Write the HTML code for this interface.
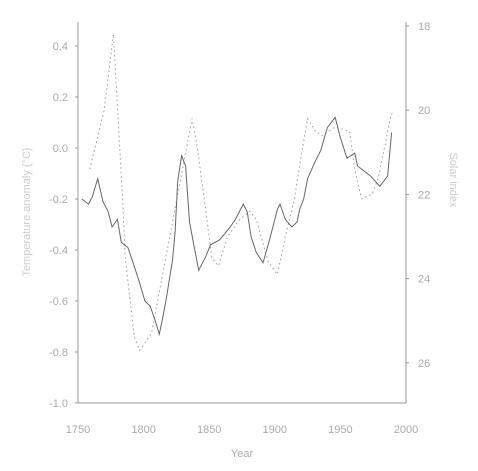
<!DOCTYPE html>
<html><head><meta charset="utf-8"><style>
html,body{margin:0;padding:0;background:#fff;}
svg{display:block;font-family:"Liberation Sans",sans-serif;}
</style></head><body>
<svg id="chart" width="478" height="471" viewBox="0 0 478 471" xmlns="http://www.w3.org/2000/svg">
<g id="axes"></g>
<g id="plot"></g>
</svg>
<script>
const solidYears=[1753,1758,1761,1765,1769,1773,1776,1780,1783,1788,1792,1797,1801,1805,1809,1812,1814,1817,1822,1824,1826,1829,1832,1835,1839,1842,1847,1851,1858,1866,1870,1876,1879,1882,1886,1891,1896,1902,1904,1908,1913,1917,1919,1922,1925,1931,1935,1940,1946,1950,1955,1961,1963,1973,1980,1986,1989];
const solidValues=[-0.20,-0.22,-0.19,-0.12,-0.21,-0.25,-0.31,-0.28,-0.37,-0.39,-0.45,-0.53,-0.60,-0.62,-0.68,-0.73,-0.68,-0.60,-0.44,-0.33,-0.13,-0.03,-0.07,-0.29,-0.40,-0.48,-0.43,-0.38,-0.36,-0.31,-0.28,-0.22,-0.25,-0.35,-0.41,-0.45,-0.36,-0.24,-0.22,-0.28,-0.31,-0.29,-0.24,-0.20,-0.12,-0.05,-0.01,0.08,0.12,0.04,-0.04,-0.02,-0.07,-0.11,-0.15,-0.11,0.06];
const dotYears=[1759,1770,1777,1784,1786,1793,1797,1806,1837,1841,1847,1852,1857,1864,1873,1881,1886,1895,1902,1908,1915,1919,1925,1931,1936,1946,1957,1961,1966,1974,1979,1988,1990];
const dotValues=[21.4,20.0,18.2,22.1,23.5,25.4,25.7,25.3,20.2,20.9,22.3,23.5,23.7,23.0,22.6,22.4,22.6,23.6,23.9,23.0,22.1,21.3,20.2,20.5,20.6,20.4,20.5,21.4,22.1,22.0,21.6,20.2,20.0];
const xTicks=[1750,1800,1850,1900,1950,2000];
const yLeftTicks=[0.4,0.2,0.0,-0.2,-0.4,-0.6,-0.8,-1.0];
const yRightTicks=[18,20,22,24,26];

const X0=78,X1=406,YB=403;
const x=yr=>X0+(yr-1750)*(X1-X0)/250;
const yL=v=>46+(0.4-v)*255;
const yR=v=>26+(v-18)*42.1;
const NS='http://www.w3.org/2000/svg';
function mk(t,a,p){const e=document.createElementNS(NS,t);for(const k in a)e.setAttribute(k,a[k]);p.appendChild(e);return e;}
const axes=document.getElementById('axes'),plot=document.getElementById('plot');
const gray='#aaa';
let e;
e=mk('line',{x1:X0,y1:YB,x2:X1,y2:YB,stroke:'#999','stroke-width':1},axes);

e=mk('line',{x1:X0,y1:22,x2:X0,y2:YB,stroke:'#999','stroke-width':1},axes);

e=mk('line',{x1:X1,y1:22,x2:X1,y2:YB,stroke:'#999','stroke-width':1},axes);

xTicks.forEach(t=>{
 e=mk('text',{x:x(t),y:433,'text-anchor':'middle','font-size':11,fill:gray},axes);e.textContent=t;
 
});
yLeftTicks.forEach(t=>{
 mk('line',{x1:X0-3,y1:yL(t),x2:X0,y2:yL(t),stroke:'#999'},axes);
 e=mk('text',{x:68,y:yL(t)+4,'text-anchor':'end','font-size':11,fill:gray},axes);e.textContent=t.toFixed(1);
 
});
yRightTicks.forEach(t=>{
 mk('line',{x1:X1,y1:yR(t),x2:X1+3,y2:yR(t),stroke:'#999'},axes);
 e=mk('text',{x:418,y:yR(t)+4,'font-size':11,fill:gray},axes);e.textContent=t;
 
});
e=mk('text',{x:242,y:457,'text-anchor':'middle','font-size':11,fill:gray},axes);e.textContent='Year';

e=mk('text',{x:30,y:212,'text-anchor':'middle','font-size':11,fill:'#ccc',transform:'rotate(-90 30 212)'},axes);e.textContent='Temperature anomaly (°C)';

e=mk('text',{x:450,y:180,'text-anchor':'middle','font-size':11,fill:'#ccc',transform:'rotate(90 450 180)'},axes);e.textContent='Solar index';


e=mk('path',{d:dotYears.map((t,i)=>(i?'L':'M')+x(t).toFixed(1)+','+yR(dotValues[i]).toFixed(1)).join(''),fill:'none',stroke:'#999','stroke-width':1,'stroke-dasharray':'1.5,3'},plot);

e=mk('path',{d:solidYears.map((t,i)=>(i?'L':'M')+x(t).toFixed(1)+','+yL(solidValues[i]).toFixed(1)).join(''),fill:'none',stroke:'#666','stroke-width':1},plot);

</script>
</body></html>
